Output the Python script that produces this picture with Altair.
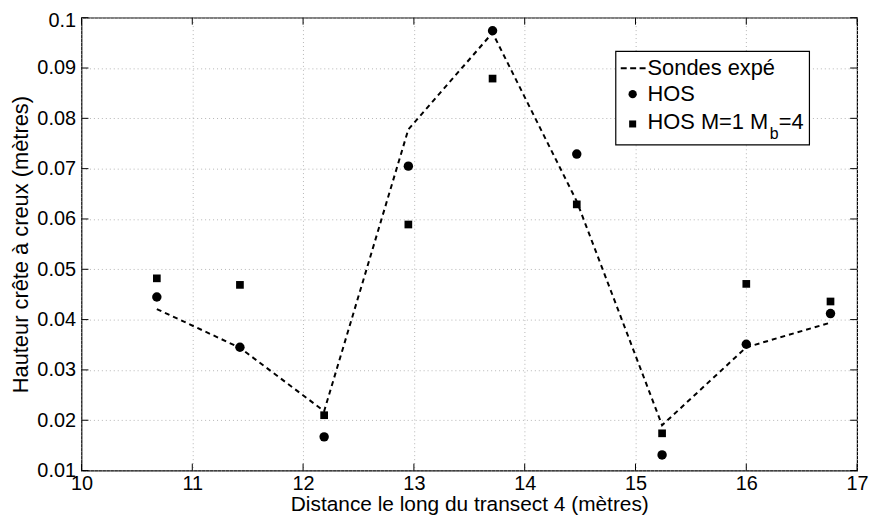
import altair as alt
import pandas as pd

# ---- data ----
distance = [10.68, 11.43, 12.19, 12.95, 13.71, 14.47, 15.24, 16.00, 16.76]
sondes = [0.0421, 0.0344, 0.0218, 0.0778, 0.0970, 0.0635, 0.0190, 0.0345, 0.0394]
hos = [0.0445, 0.0345, 0.0167, 0.0705, 0.0974, 0.0729, 0.0131, 0.0351, 0.0412]
hos_mb = [0.0482, 0.0469, 0.0210, 0.0589, 0.0879, 0.0629, 0.0174, 0.0471, 0.0436]

x_ticks = [10, 11, 12, 13, 14, 15, 16, 17]
y_ticks = [0.01, 0.02, 0.03, 0.04, 0.05, 0.06, 0.07, 0.08, 0.09, 0.1]

legend_labels = ["Sondes expé", "HOS", "HOS M=1 M"]

W, H = 781, 456
FONT = "Liberation Sans"

df = pd.DataFrame({"x": distance, "sondes": sondes, "hos": hos, "hos_mb": hos_mb})

xs = alt.Scale(domain=[10, 17], nice=False, zero=False)
ys = alt.Scale(domain=[0.01, 0.1], nice=False, zero=False)

xaxis = alt.Axis(values=x_ticks, grid=True, gridColor="#b5b5b5", gridDash=[1, 3],
                 domain=False, ticks=False, labelFont=FONT, labelFontSize=20, format="d",
                 labelColor="black", labelPadding=3, title="Distance le long du transect 4 (mètres)",
                 titleFont=FONT, titleFontSize=21, titleFontWeight="normal", titleColor="black",
                 titlePadding=0, labelFlush=False)
yaxis = alt.Axis(values=y_ticks, grid=True, gridColor="#b5b5b5", gridDash=[1, 3],
                 domain=False, ticks=False, labelFont=FONT, labelFontSize=20,
                 labelColor="black", labelPadding=6, format=".2~f",
                 labelOffset={"condition": {"test": "datum.value >= 0.0999", "value": 3}, "value": 0},
                 title="Hauteur crête à creux (mètres)", titleFont=FONT, titleFontSize=22,
                 titleFontWeight="normal", titleColor="black", titlePadding=4, labelFlush=False)

base = alt.Chart(df)

line = base.mark_line(color="black", strokeDash=[5, 4], strokeWidth=2).encode(
    x=alt.X("x:Q", scale=xs, axis=xaxis),
    y=alt.Y("sondes:Q", scale=ys, axis=yaxis),
)
circles = base.mark_circle(color="black", size=90, opacity=1).encode(
    x=alt.X("x:Q", scale=xs), y=alt.Y("hos:Q", scale=ys))
squares = base.mark_square(color="black", size=60, opacity=1).encode(
    x=alt.X("x:Q", scale=xs), y=alt.Y("hos_mb:Q", scale=ys))

# inward ticks
xt = alt.Chart(pd.DataFrame({"t": x_ticks}))
yt = alt.Chart(pd.DataFrame({"t": y_ticks}))
TL = 7
tick_x_bot = xt.mark_rule(color="black").encode(x=alt.X("t:Q", scale=xs), y=alt.value(H), y2=alt.value(H - TL))
tick_x_top = xt.mark_rule(color="black").encode(x=alt.X("t:Q", scale=xs), y=alt.value(0), y2=alt.value(TL))
tick_y_l = yt.mark_rule(color="black").encode(y=alt.Y("t:Q", scale=ys), x=alt.value(0), x2=alt.value(TL))
tick_y_r = yt.mark_rule(color="black").encode(y=alt.Y("t:Q", scale=ys), x=alt.value(W), x2=alt.value(W - TL))

# legend (drawn manually)
one = alt.Chart(pd.DataFrame({"a": [0]}))
LF = 22
lg_box = one.mark_rect(fill="white", stroke="black", strokeWidth=1.2).encode(
    x=alt.value(538), x2=alt.value(733), y=alt.value(34), y2=alt.value(128))
lg_line = one.mark_rule(color="black", strokeDash=[6, 3.5], strokeWidth=2).encode(
    x=alt.value(543), x2=alt.value(568), y=alt.value(51))
lg_circ = one.mark_circle(color="black", size=70, opacity=1).encode(x=alt.value(555), y=alt.value(77))
lg_sq = one.mark_square(color="black", size=50, opacity=1).encode(x=alt.value(555), y=alt.value(107))
lg_t1 = one.mark_text(text=legend_labels[0], font=FONT, fontSize=LF, align="left", baseline="middle").encode(
    x=alt.value(570), y=alt.value(51))
lg_t2 = one.mark_text(text=legend_labels[1], font=FONT, fontSize=LF, align="left", baseline="middle").encode(
    x=alt.value(570), y=alt.value(77))
lg_t3 = one.mark_text(text=legend_labels[2], font=FONT, fontSize=LF, align="left", baseline="middle").encode(
    x=alt.value(570), y=alt.value(105))
lg_sub = one.mark_text(text="b", font=FONT, fontSize=16, align="left", baseline="middle").encode(
    x=alt.value(693), y=alt.value(117))
lg_t4 = one.mark_text(text="=4", font=FONT, fontSize=LF, align="left", baseline="middle").encode(
    x=alt.value(702), y=alt.value(105))

chart = alt.layer(
    line, circles, squares, tick_x_bot, tick_x_top, tick_y_l, tick_y_r,
    lg_box, lg_line, lg_circ, lg_sq, lg_t1, lg_t2, lg_t3, lg_sub, lg_t4,
).properties(
    width=W, height=H,
    autosize=alt.AutoSizeParams(type="none"),
    padding={"left": 74, "top": 8, "right": 14, "bottom": 45},
).configure_view(stroke="black", strokeWidth=1.2)

chart.save("out.html", embed_options={"renderer": "svg", "actions": False})
